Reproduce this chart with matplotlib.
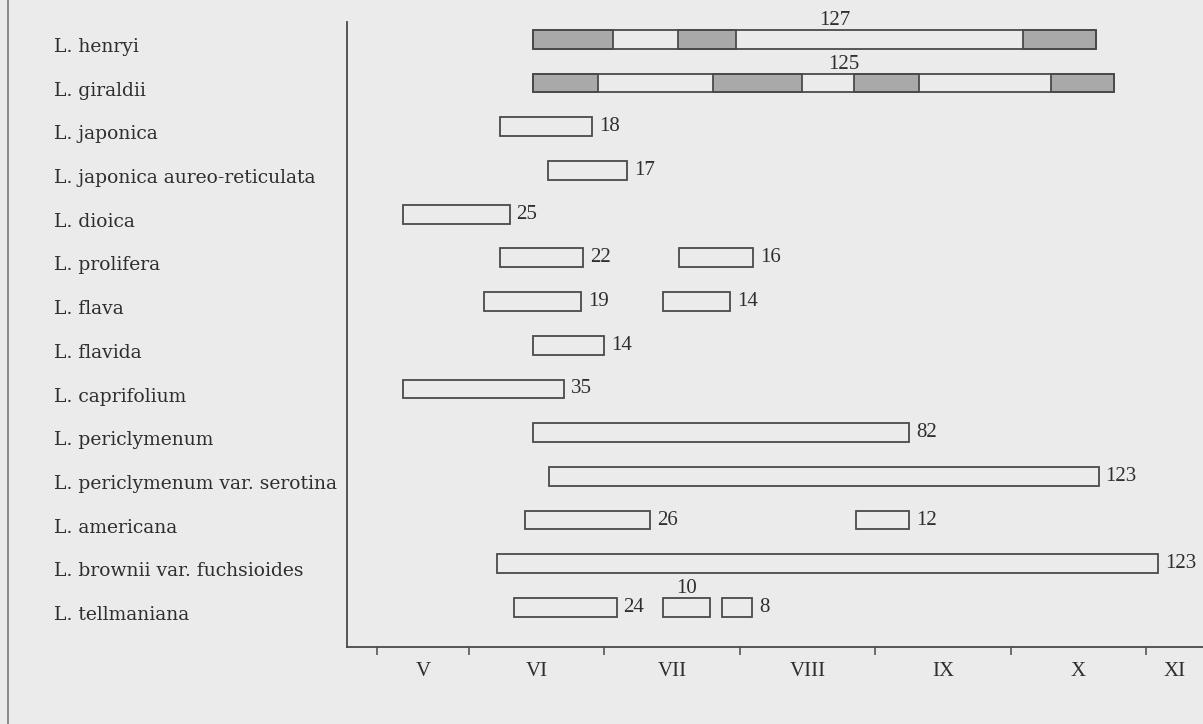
import matplotlib.pyplot as plt
import matplotlib.transforms as mtransforms
from matplotlib.lines import Line2D

# flowering periods of Lonicera species, x in months (6.0 = 1 June)
species = [
    "L. henryi",
    "L. giraldii",
    "L. japonica",
    "L. japonica aureo-reticulata",
    "L. dioica",
    "L. prolifera",
    "L. flava",
    "L. flavida",
    "L. caprifolium",
    "L. periclymenum",
    "L. periclymenum var. serotina",
    "L. americana",
    "L. brownii var. fuchsioides",
    "L. tellmaniana",
]

spans = [
    [(6.47, 10.63)],
    [(6.47, 10.76)],
    [(6.23, 6.91)],
    [(6.58, 7.17)],
    [(5.51, 6.30)],
    [(6.23, 6.84), (7.55, 8.10)],
    [(6.11, 6.83), (7.43, 7.93)],
    [(6.47, 7.00)],
    [(5.51, 6.70)],
    [(6.47, 9.25)],
    [(6.59, 10.65)],
    [(6.41, 7.34), (8.86, 9.25)],
    [(6.21, 11.09)],
    [(6.33, 7.09), (7.43, 7.78), (7.87, 8.09)],
]

# periods of mass flowering (shaded)
heavy = {
    0: [(6.47, 7.06), (7.54, 7.97), (10.09, 10.63)],
    1: [(6.47, 6.95), (7.80, 8.46), (8.84, 9.32), (10.30, 10.76)],
}

days = [
    [127], [125], [18], [17], [25], [22, 16], [19, 14], [14], [35],
    [82], [123], [26, 12], [123], [24, 10, 8],
]

labels_above = {(13, 1)}

month_edges = [5.32, 6, 7, 8, 9, 10, 11]
month_names = ["V", "VI", "VII", "VIII", "IX", "X", "XI"]

W, H = 1203, 724
bg = "#ebebeb"
ink = "#4a4a4a"

fig = plt.figure(figsize=(W / 100, H / 100), dpi=100, facecolor=bg)
ax = fig.add_axes([347 / W, 1 - 647 / H, (1203 - 347) / W, (647 - 22) / H])
ax.set_facecolor("none")
xmax = 11.42
ax.set_xlim(5.099, xmax)
ax.set_ylim(13.776, -0.526)

bar_h = 0.43
off = -0.13
num_font = dict(family="Liberation Serif", fontsize=15, color="#2e2e2e")

for i, row in enumerate(spans):
    y = i + off
    for j, (s, e) in enumerate(row):
        ax.barh(y, e - s, left=s, height=bar_h, facecolor="none",
                edgecolor=ink, linewidth=1.3, zorder=3)
        if i in heavy:
            continue
        if (i, j) in labels_above:
            ax.text((s + e) / 2, y - bar_h / 2, str(days[i][j]), ha="center",
                    va="bottom", **num_font)
        else:
            ax.annotate(str(days[i][j]), (e, y), xytext=(5, 0),
                        textcoords="offset points", ha="left", va="center",
                        **num_font)
    if i in heavy:
        for s, e in heavy[i]:
            ax.barh(y, e - s, left=s, height=bar_h, facecolor="#a9a9a9",
                    edgecolor=ink, linewidth=1.3, zorder=2)
        s0, e0 = row[0]
        ax.text((s0 + e0) / 2 + 0.15, y - bar_h / 2, str(days[i][0]),
                ha="center", va="bottom", **num_font)

# species names on the left
trans = mtransforms.blended_transform_factory(fig.transFigure, ax.transData)
trans = mtransforms.offset_copy(trans, fig=fig, y=-5, units="points")
for i, name in enumerate(species):
    ax.text(54 / W, i, name, transform=trans, ha="left", va="baseline",
            family="DejaVu Serif", fontsize=13.5, color="#2e2e2e")

# month axis
mids = [(a + b) / 2 for a, b in zip(month_edges, month_edges[1:] + [xmax])]
ax.set_xticks(month_edges)
ax.set_xticklabels([])
ax.set_xticks(mids, minor=True)
ax.set_xticklabels(month_names, minor=True, family="Liberation Serif",
                   fontsize=15, color="#2e2e2e")
ax.tick_params(axis="x", which="major", direction="out", length=6,
               width=1.1, color=ink)
ax.tick_params(axis="x", which="minor", length=0, pad=11)
ax.set_yticks([])

for side in ["top", "right"]:
    ax.spines[side].set_visible(False)
for side in ["left", "bottom"]:
    ax.spines[side].set_color(ink)
    ax.spines[side].set_linewidth(1.3)

# page edge of the scan
fig.add_artist(Line2D([8 / W, 8 / W], [0, 1], color="#777777", lw=1.2))

fig.savefig("out.png", dpi=100, facecolor=bg)
